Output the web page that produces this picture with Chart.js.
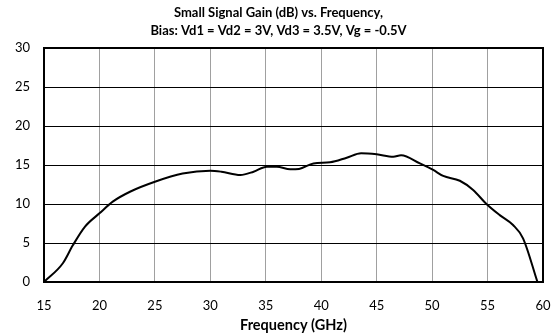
<!DOCTYPE html>
<html>
<head>
<meta charset="utf-8">
<script src="https://cdn.jsdelivr.net/npm/chart.js@4/dist/chart.umd.min.js"></script>
<style>
  html, body { margin: 0; padding: 0; background: #fff; }
  #wrap { width: 557px; height: 334px; }
</style>
</head>
<body>
<div id="wrap"><canvas id="gain-chart"></canvas></div>
<script>
// Frequency (GHz) and small signal gain (dB)
var freq = [15, 16.7, 17.6, 18.7, 20, 21.2, 22.8, 25, 27.5, 30, 31, 32.7, 33.9, 35.1, 36, 37.2, 38, 39.3, 40.8, 42.3, 43.6, 45, 46.5, 47.2, 48.9, 50.1, 51, 52.5, 53.7, 54.9, 56.1, 57.3, 58.2, 59.5];
var gain = [0, 2.4, 4.7, 7.1, 8.8, 10.3, 11.6, 12.85, 13.9, 14.27, 14.14, 13.72, 14.14, 14.78, 14.78, 14.44, 14.5, 15.2, 15.35, 15.94, 16.5, 16.37, 16.07, 16.24, 15.2, 14.36, 13.6, 12.98, 11.8, 10.0, 8.57, 7.3, 5.6, 0];
var xTicks = [15, 20, 25, 30, 35, 40, 45, 50, 55, 60];
var yTicks = [0, 5, 10, 15, 20, 25, 30];

var points = freq.map(function(f, i){ return { x: f, y: gain[i] }; });

var fontFamily = 'Lato, "Open Sans", sans-serif';

var ctx = document.getElementById('gain-chart');
var gainChart = new Chart(ctx, {
    type: 'line',
    data: {
        datasets: [{
            data: points,
            borderColor: '#000',
            borderWidth: 2,
            pointRadius: 0,
            cubicInterpolationMode: 'monotone',
            fill: false
        }]
    },
    options: {
        responsive: true,
        maintainAspectRatio: false,
        animation: false,
        layout: { padding: 0 },
        plugins: {
            legend: { display: false },
            tooltip: { enabled: false },
            title: {
                display: true,
                text: ['Small Signal Gain (dB) vs. Frequency,', 'Bias: Vd1 = Vd2 = 3V, Vd3 = 3.5V, Vg = -0.5V'],
                color: '#000',
                font: { family: fontFamily, size: 13, weight: 'bold', lineHeight: 1.4 },
                padding: { top: 4, bottom: 7.6 }
            }
        },
        scales: {
            x: {
                type: 'linear',
                min: 15,
                max: 60,
                afterBuildTicks: function(scale){
                    scale.ticks = xTicks.map(function(v){ return { value: v }; });
                },
                afterFit: function(scale){
                    scale.height = 52;
                    scale.paddingRight = 14;
                },
                grid: { color: '#a0a0a0', lineWidth: 1, drawTicks: false },
                border: { color: '#000', width: 2 },
                ticks: { color: '#000', padding: 16, font: { family: fontFamily, size: 13 } },
                title: {
                    display: true,
                    text: 'Frequency (GHz)',
                    color: '#000',
                    font: { family: fontFamily, size: 14.5, weight: 'bold' },
                    padding: { top: 2, bottom: 0 }
                }
            },
            y: {
                min: 0,
                max: 30,
                afterBuildTicks: function(scale){
                    scale.ticks = yTicks.map(function(v){ return { value: v }; });
                },
                afterFit: function(scale){ scale.width = 44; },
                grid: { color: '#000', lineWidth: 1, drawTicks: false },
                border: { color: '#000', width: 2 },
                ticks: { color: '#000', padding: 14, font: { family: fontFamily, size: 13 } }
            }
        }
    },
    plugins: [{
        id: 'frame',
        afterDraw: function(chart){
            var a = chart.chartArea, c = chart.ctx;
            c.save();
            c.strokeStyle = '#000';
            c.lineWidth = 2;
            c.strokeRect(a.left, a.top, a.right - a.left, a.bottom - a.top);
            c.restore();
        }
    }]
});
</script>
</body>
</html>
